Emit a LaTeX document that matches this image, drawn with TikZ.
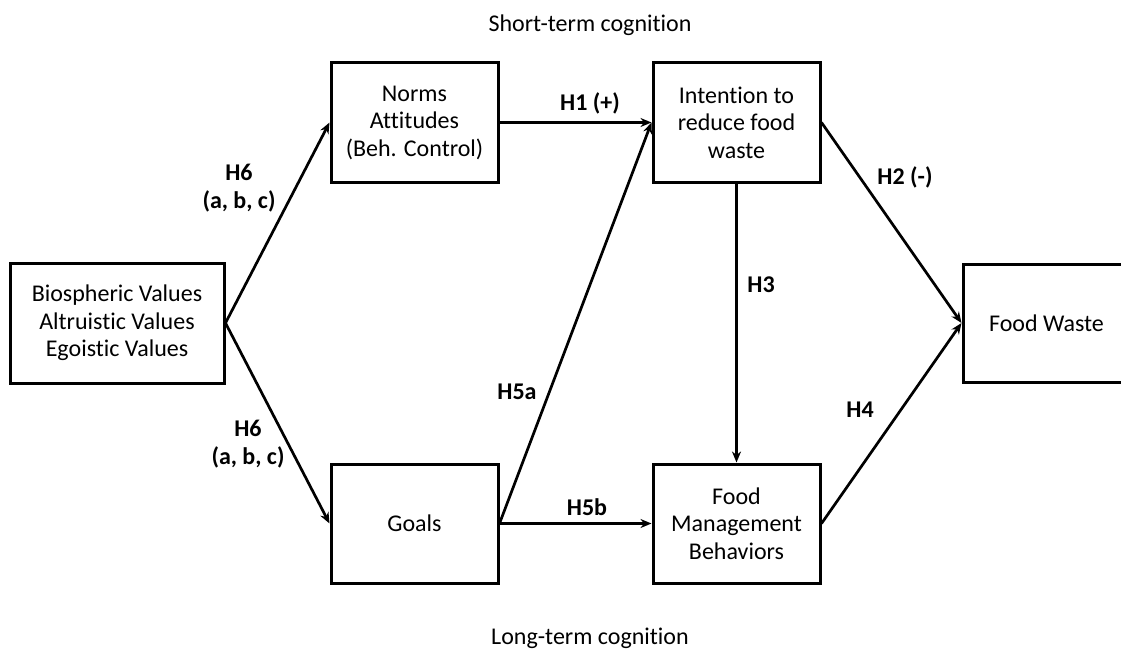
\documentclass[tikz,border=0pt]{standalone}
\usepackage{fontspec}
\setmainfont{Carlito}[Ligatures=NoCommon]
\usetikzlibrary{arrows.meta}
\begin{document}
\begin{tikzpicture}[x=1pt,y=-1pt,
  box/.style={draw, line width=3pt, minimum width=167pt, minimum height=119pt, align=center, inner sep=0pt, font=\fontsize{24}{27.5}\selectfont},
  conn/.style={line width=2.7pt, -{Stealth[length=11pt,width=9pt]}},
  lab/.style={font=\fontsize{24}{27.5}\selectfont\bfseries, align=center, inner sep=0pt},
  txt/.style={font=\fontsize{24}{27.5}\selectfont, inner sep=0pt}]
\useasboundingbox (0,0) rectangle (1121,650);
\node[box, minimum width=214pt, minimum height=120pt] (val) at (117,323) {Biospheric Values\\Altruistic Values\\Egoistic Values};
\node[box] (norms) at (414.5,122.5) {Norms\\Attitudes\\(Beh. Control)};
\node[box] (int) at (736.5,122.5) {Intention to\\reduce food\\waste};
\node[box] (goals) at (414.5,523.5) {Goals};
\node[box] (fmb) at (736.5,523.5) {Food\\Management\\Behaviors};
\node[box, minimum height=118pt] (fw) at (1046.5,323) {Food Waste};

\node[txt] (st) at (590,25) {Short-term cognition};
\node[txt] (lt) at (590,638) {Long-term cognition};

\draw[conn] (val.east) -- (norms.west);
\draw[conn] (val.east) -- (goals.west);
\draw[conn] (norms.east) -- (int.west);
\draw[conn] (goals.east) -- (int.west);
\draw[conn] (goals.east) -- (fmb.west);
\draw[conn] (int.south) -- (fmb.north);
\draw[conn] (int.east) -- (fw.west);
\draw[conn] (fmb.east) -- (fw.west);

\node[lab] (l6a) at (239,188) {H6\\(a, b, c)};
\node[lab] (l6b) at (248,444) {H6\\(a, b, c)};
\node[lab] (l1) at (590,103) {H1 (+)};
\node[lab] (l5a) at (517,392) {H5a};
\node[lab] (l5b) at (587,507) {H5b};
\node[lab] (l3) at (761,285) {H3};
\node[lab] (l2) at (905,177) {H2 (-)};
\node[lab] (l4) at (860,410) {H4};
\end{tikzpicture}
\end{document}
